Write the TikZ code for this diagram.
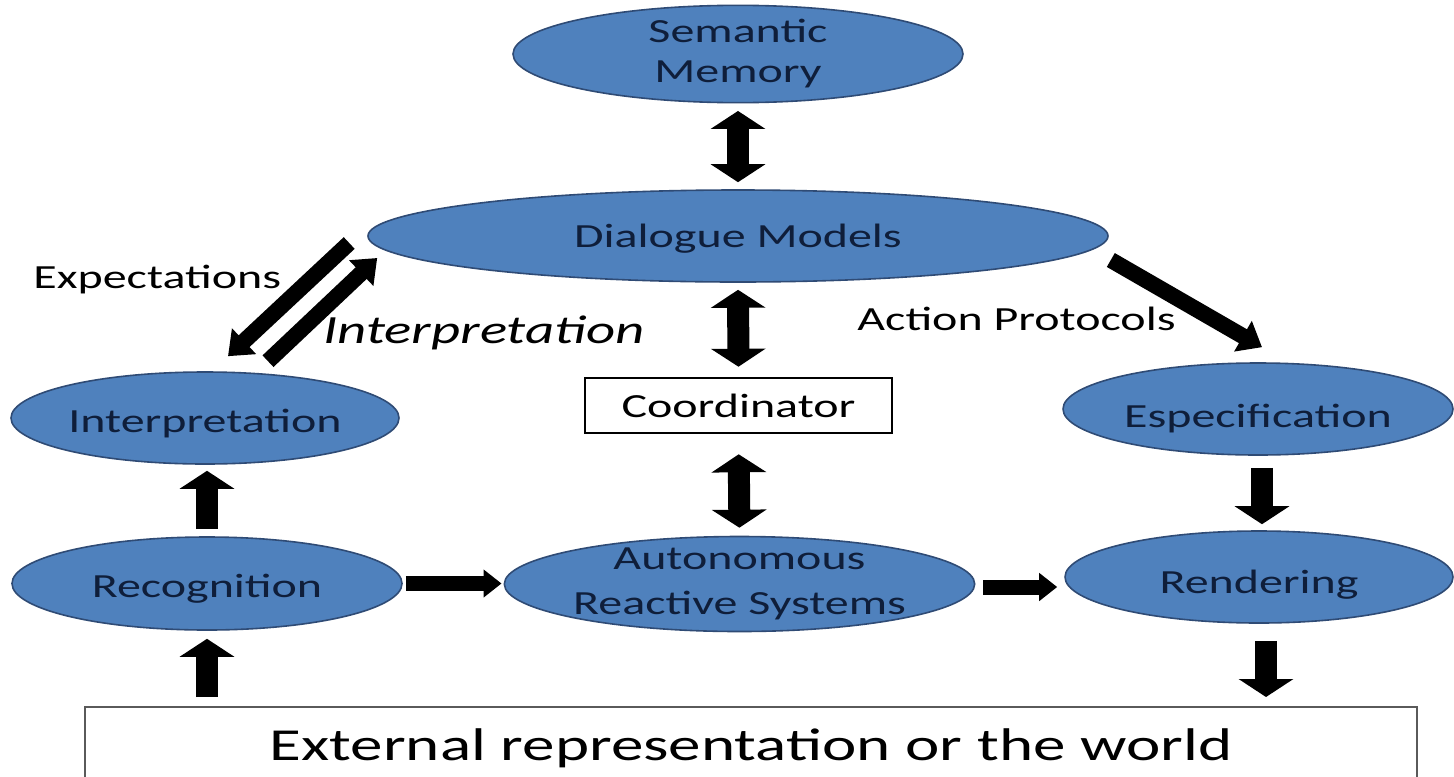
\documentclass[tikz,border=0pt]{standalone}
\usepackage{fontspec}
\setmainfont{Carlito}[FakeStretch=1.42]
\usetikzlibrary{arrows.meta,shapes.geometric}

\definecolor{ellfill}{HTML}{4F81BD}
\definecolor{elldraw}{HTML}{2F4B75}
\definecolor{elltext}{HTML}{0F1E3A}
\definecolor{boxgray}{HTML}{5A5A5A}

\tikzset{
  bigtip/.tip={Triangle[length=9pt,width=27pt]},
  midtip/.tip={Triangle[length=11pt,width=17pt]},
  smalltip/.tip={Triangle[length=9pt,width=13.5pt]},
  bubble/.style={ellipse, fill=ellfill, draw=elldraw, line width=0.8pt,
    inner sep=0pt, text=elltext, align=center,
    font=\fontsize{16.9}{20}\selectfont},
  oneline/.style={text height=#1, text depth=0pt},
  oneline/.default=14pt,
  plainbox/.style={rectangle, draw=black, line width=1.3pt, inner sep=0pt,
    font=\fontsize{16.9}{20}\selectfont},
  lbl/.style={inner sep=0pt, font=\fontsize{16.9}{20}\selectfont},
  vone/.style={line width=11pt, arrows={-bigtip}},
  vtwo/.style={line width=11pt, arrows={bigtip-bigtip}},
  hone/.style={line width=7.5pt, arrows={-smalltip}},
  done/.style={line width=8pt, arrows={-midtip}},
}

\begin{document}
\begin{tikzpicture}[x=0.5pt, y=-0.5pt, line join=miter]
  \fill[white, use as bounding box] (0,0) rectangle (1454,776);

  % nodes
  \node[bubble, minimum width=225pt, minimum height=45.5pt] (sem) at (738,54) {Semantic\\Memory};
  \node[bubble, oneline=11pt, minimum width=370pt, minimum height=46pt] (dia) at (738,236) {Dialogue Models};
  \node[bubble, oneline, minimum width=194pt, minimum height=46pt] (interp) at (205,418) {Interpretation};
  \node[plainbox, minimum width=153.5pt, minimum height=27.5pt] (coord) at (738.5,405.5) {Coordinator};
  \node[bubble, oneline=18pt, minimum width=195pt, minimum height=46pt] (espec) at (1258,409) {Especification};
  \node[bubble, oneline, minimum width=195pt, minimum height=46.5pt] (recog) at (207,583.5) {Recognition};
  \node[bubble, minimum width=220.5pt, minimum height=47.5pt, inner ysep=-8pt,
        font=\fontsize{16.9}{22.5}\selectfont] (auton) at (739.5,584) {Autonomous\\Reactive Systems};
  \node[bubble, oneline=16pt, minimum width=194pt, minimum height=46pt] (rend) at (1259,577) {Rendering};
  \node[rectangle, draw=boxgray, line width=1pt, inner sep=0pt,
        minimum width=666pt, minimum height=41.5pt,
        font=\fontsize{22.9}{27}\selectfont] (ext) at (751,748.5) {External representation or the world};

  % labels
  \node[lbl, anchor=base west] (lexp) at (33,288) {Expectations};
  \node[lbl, anchor=base west, font=\fontsize{20}{24}\selectfont\itshape] (lint) at (323,343) {Interpretation};
  \node[lbl, anchor=base west] (lact) at (857,330) {Action Protocols};

  % vertical block arrows
  \draw[vtwo, shorten <=3.75pt, shorten >=3.5pt] (sem.south) -- (dia.north);
  \draw[vtwo, shorten <=3.5pt, shorten >=5pt] (dia.south) -- (coord.north);
  \draw[vtwo, shorten <=10pt, shorten >=4pt] (coord.south) -- (auton.north);
  \draw[vone, shorten <=3.5pt, shorten >=3pt] (recog.north) -- (recog.north |- interp.south);
  \draw[vone, shorten <=4.5pt, shorten >=4pt] (recog.south |- ext.north) -- (recog.south);
  \draw[vone, shorten <=6pt, shorten >=3pt] ([xshift=2pt]espec.south) -- ([xshift=2pt]espec.south |- rend.north);
  \draw[vone, shorten <=8.5pt, shorten >=4.5pt] ([xshift=3.5pt]rend.south) -- ([xshift=3.5pt]rend.south |- ext.north);

  % horizontal block arrows
  \draw[hone, shorten <=1.5pt, shorten >=1pt] (recog.east) -- (recog.east -| auton.west);
  \draw[hone, shorten <=4pt, shorten >=3.5pt] ([yshift=-1.5pt]auton.east) -- ([yshift=-1.5pt]auton.east -| rend.west);

  % diagonal block arrows
  \draw[done] ([shift={(-18,7)}]dia.west) -- ([shift={(23,-15)}]interp.north);
  \draw[done] ([shift={(63,-10)}]interp.north) -- ([shift={(10,22)}]dia.west);
  \draw[done] ([shift={(2,24)}]dia.east) -- ([shift={(4,-15)}]espec.north);
\end{tikzpicture}
\end{document}
